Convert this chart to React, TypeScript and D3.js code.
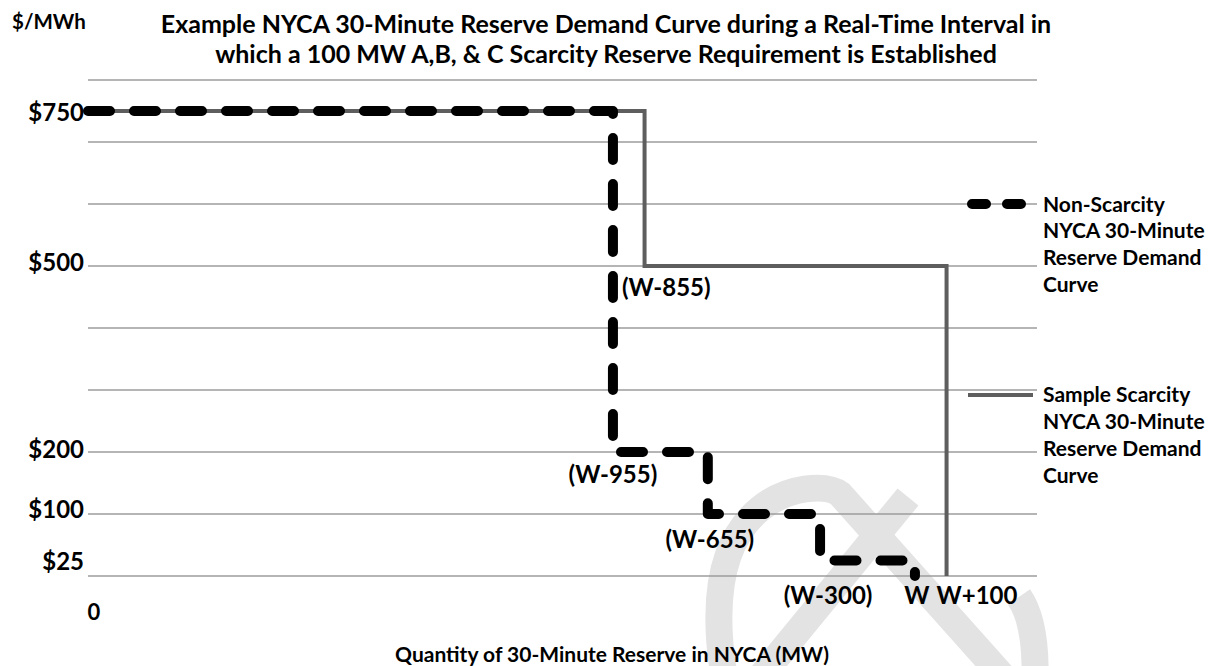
import React from "react";
import * as d3 from "d3";

// ---------- data ----------
const TITLE_LINES = [
  "Example NYCA 30-Minute Reserve Demand Curve during a Real-Time Interval in",
  "which a 100 MW A,B, & C Scarcity Reserve Requirement is Established",
];
const Y_UNIT = "$/MWh";
const X_TITLE = "Quantity of 30-Minute Reserve in NYCA (MW)";
const GRID_PRICES = [0, 100, 200, 300, 400, 500, 600, 700, 800];
const TICK_PRICES = [750, 500, 200, 100, 25];
const TICK_LABELS = ["$750", "$500", "$200", "$100", "$25"];
const ORIGIN_LABEL = "0";
// quantities expressed relative to W (MW)
const X_DOMAIN = [-2615, 386];
const Y_DOMAIN = [0, 800];
const NON_SCARCITY_QTY = [-2615, -955, -655, -300, 0];
const NON_SCARCITY_PRICE = [750, 200, 100, 25, 0];
const SCARCITY_QTY = [-2615, -855, 100];
const SCARCITY_PRICE = [750, 500, 0];
const POINT_LABELS = ["(W-855)", "(W-955)", "(W-655)", "(W-300)", "W", "W+100"];
const POINT_LABEL_QTY = [-955, -955, -655, -300, 0, 100];
const POINT_LABEL_PRICE = [500, 200, 100, 0, 0, 0];
const LEGEND_NON = ["Non-Scarcity", "NYCA 30-Minute", "Reserve Demand", "Curve"];
const LEGEND_SCAR = ["Sample Scarcity", "NYCA 30-Minute", "Reserve Demand", "Curve"];
const LEGEND_PRICE = [600, 292];

// ---------- layout / style ----------
const W = 1213;
const H = 666;
const M = { left: 88, right: 1037, top: 80, bottom: 576 };
const FONT = "Lato, 'Open Sans', sans-serif";
const TICK_DY = [0, -5, -4, -6, 0];
const LABEL_OFFSETS: [number, number, string][] = [
  [9, 20, "start"],
  [0, 21, "middle"],
  [2, 24, "middle"],
  [8, 18, "middle"],
  [2, 18, "middle"],
  [-10, 18, "start"],
];

export default function App() {
  const x = d3.scaleLinear().domain(X_DOMAIN).range([M.left, M.right]);
  const y = d3.scaleLinear().domain(Y_DOMAIN).range([M.bottom, M.top]);

  const line = d3
    .line<[number, number]>()
    .x((d) => x(d[0]))
    .y((d) => y(d[1]))
    .curve(d3.curveStepAfter);

  const nonPts = NON_SCARCITY_QTY.map((q, i) => [q, NON_SCARCITY_PRICE[i]] as [number, number]);
  const scarPts = SCARCITY_QTY.map((q, i) => [q, SCARCITY_PRICE[i]] as [number, number]);

  const textStyle = { fontFamily: FONT, fontWeight: 700, fill: "#000" } as React.CSSProperties;

  return (
    <svg
      width={W}
      height={H}
      style={{ position: "absolute", left: 0, top: 0, background: "#fff" }}
    >
      <rect x={0} y={0} width={W} height={H} fill="#fff" />

      {/* watermark */}
      <g fill="none" stroke="#e3e3e3" strokeWidth={27} strokeLinecap="butt">
        <path d="M 727 690 C 716 640 716 590 728 556 C 742 516 772 494 805 489 C 820 487 832 488 840 494 L 1006 680" />
        <path d="M 908 497 L 758 680" />
        <path d="M 1019 597 C 1031 614 1036 640 1035 680" />
      </g>

      {/* gridlines */}
      <g>
        {GRID_PRICES.map((p) => (
          <line
            key={p}
            x1={M.left}
            x2={M.right}
            y1={y(p)}
            y2={y(p)}
            stroke="#9c9c9c"
            strokeWidth={1.6}
          />
        ))}
      </g>

      {/* title */}
      <g style={{ ...textStyle, fontSize: 25 }} textAnchor="middle">
        {TITLE_LINES.map((t, i) => (
          <text key={i} x={606} y={23 + i * 30} dominantBaseline="central">
            {t}
          </text>
        ))}
      </g>
      <text x={12} y={21} dominantBaseline="central" style={{ ...textStyle, fontSize: 20.5 }}>
        {Y_UNIT}
      </text>

      {/* y tick labels */}
      <g style={{ ...textStyle, fontSize: 24 }} textAnchor="end">
        {TICK_PRICES.map((p, i) => (
          <text key={p} x={M.left - 4} y={y(p) + TICK_DY[i]} dominantBaseline="central">
            {TICK_LABELS[i]}
          </text>
        ))}
      </g>
      <text x={M.left + 6} y={611} textAnchor="middle" dominantBaseline="central" style={{ ...textStyle, fontSize: 22 }}>
        {ORIGIN_LABEL}
      </text>

      {/* curves */}
      <path d={line(scarPts) || ""} fill="none" stroke="#5e5e5e" strokeWidth={4} />
      <path
        d={line(nonPts) || ""}
        fill="none"
        stroke="#000"
        strokeWidth={10}
        strokeDasharray="22 24"
        strokeLinecap="round"
        strokeLinejoin="round"
      />

      {/* point labels */}
      <g style={{ ...textStyle, fontSize: 24 }}>
        {POINT_LABELS.map((t, i) => (
          <text
            key={t}
            x={x(POINT_LABEL_QTY[i]) + LABEL_OFFSETS[i][0]}
            y={y(POINT_LABEL_PRICE[i]) + LABEL_OFFSETS[i][1]}
            textAnchor={LABEL_OFFSETS[i][2] as any}
            dominantBaseline="central"
          >
            {t}
          </text>
        ))}
      </g>

      {/* legend */}
      <line x1={972} x2={1022} y1={y(LEGEND_PRICE[0])} y2={y(LEGEND_PRICE[0])} stroke="#000" strokeWidth={10} strokeDasharray="14 21" strokeLinecap="round" />
      <line x1={968} x2={1033} y1={y(LEGEND_PRICE[1])} y2={y(LEGEND_PRICE[1])} stroke="#5e5e5e" strokeWidth={4} />
      <g style={{ ...textStyle, fontSize: 21 }}>
        {[LEGEND_NON, LEGEND_SCAR].map((lines, k) => (
          <g key={k}>
            {lines.map((t, i) => (
              <text key={i} x={1043} y={y(LEGEND_PRICE[k]) - 1 + i * 26.7} dominantBaseline="central">
                {t}
              </text>
            ))}
          </g>
        ))}
      </g>

      {/* x axis title */}
      <text x={612} y={653} textAnchor="middle" dominantBaseline="central" style={{ ...textStyle, fontSize: 21 }}>
        {X_TITLE}
      </text>
    </svg>
  );
}
